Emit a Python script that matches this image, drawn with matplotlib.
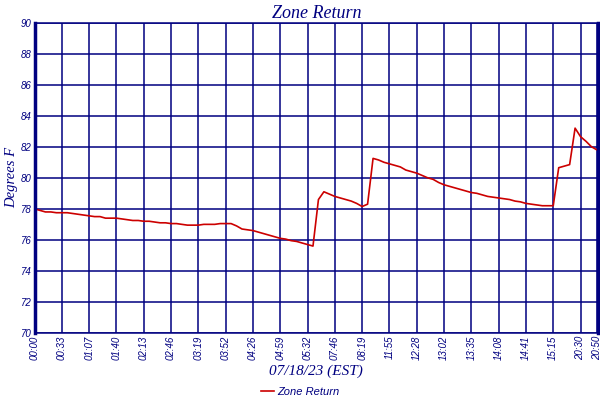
import matplotlib
matplotlib.use("Agg")
import matplotlib.pyplot as plt

# Data: one sample every 1/5 of a grid interval
temps = [
    78.0, 77.9, 77.8, 77.8, 77.75, 77.75, 77.75, 77.7, 77.65, 77.6,
    77.55, 77.5, 77.5, 77.4, 77.4, 77.4, 77.35, 77.3, 77.25, 77.25,
    77.2, 77.2, 77.15, 77.1, 77.1, 77.05, 77.05, 77.0, 76.95, 76.95,
    76.95, 77.0, 77.0, 77.0, 77.05, 77.05, 77.05, 76.9, 76.7, 76.65,
    76.6, 76.5, 76.4, 76.3, 76.2, 76.1, 76.05, 75.95, 75.9, 75.8,
    75.7, 75.6, 78.6, 79.1, 78.95, 78.8, 78.7, 78.6, 78.5, 78.35,
    78.15, 78.3, 81.25, 81.15, 81.0, 80.9, 80.8, 80.7, 80.5, 80.4,
    80.3, 80.15, 80.0, 79.9, 79.7, 79.55, 79.45, 79.35, 79.25, 79.15,
    79.05, 79.0, 78.9, 78.8, 78.75, 78.7, 78.65, 78.6, 78.5, 78.45,
    78.35, 78.3, 78.25, 78.2, 78.2, 78.2, 80.65, 80.75, 80.85, 83.2,
    82.65, 82.35, 82.0, 81.8,
]
tick_pos = [0, 5, 10, 15, 20, 25, 30, 35, 40, 45, 50, 55, 60, 65, 70,
            75, 80, 85, 90, 95, 100, 103]
tick_labels = ["00:00", "00:33", "01:07", "01:40", "02:13", "02:46", "03:19",
               "03:52", "04:26", "04:59", "05:32", "07:46", "08:19", "11:55",
               "12:28", "13:02", "13:35", "14:08", "14:41", "15:15", "20:30",
               "20:50"]
y_ticks = [70, 72, 74, 76, 78, 80, 82, 84, 86, 88, 90]

navy = "#000080"
red = "#CC0000"

fig = plt.figure(figsize=(6, 4), dpi=100)
ax = fig.add_axes([0.0575, 0.1675, 0.9392, 0.776])

ax.plot(range(len(temps)), temps, color=red, linewidth=1.2, label="Zone Return")

ax.set_xlim(0, 103.2)
ax.set_ylim(70, 90)
ax.set_xticks(tick_pos)
ax.set_xticklabels(tick_labels, rotation=90, fontsize=7, style="italic",
                   color=navy, family="Liberation Sans")
ax.set_yticks(y_ticks)
ax.set_yticklabels([str(v) for v in y_ticks], fontsize=7, style="italic",
                   color=navy, family="Liberation Sans")
ax.tick_params(length=0, pad=2)

ax.grid(True, color=navy, linewidth=1.1)
ax.set_axisbelow(True)
for side in ["top", "bottom"]:
    ax.spines[side].set_color(navy)
    ax.spines[side].set_linewidth(1.1)
for side in ["left", "right"]:
    ax.spines[side].set_color(navy)
    ax.spines[side].set_linewidth(2.5)

ax.set_title("Zone Return", fontsize=13, style="italic", color=navy,
             family="Liberation Serif", pad=3)
ax.set_xlabel("07/18/23 (EST)", fontsize=11, style="italic", color=navy,
              family="Liberation Serif", labelpad=3)
ax.set_ylabel("Degrees F", fontsize=10.5, style="italic", color=navy,
              family="Liberation Serif", labelpad=2)

fig.legend(loc="lower center", bbox_to_anchor=(0.5, -0.018), frameon=False,
           prop={"size": 8, "style": "italic", "family": "Liberation Sans"},
           labelcolor=navy, handlelength=1.2, handletextpad=0.3)

fig.savefig("out.png", dpi=100)
